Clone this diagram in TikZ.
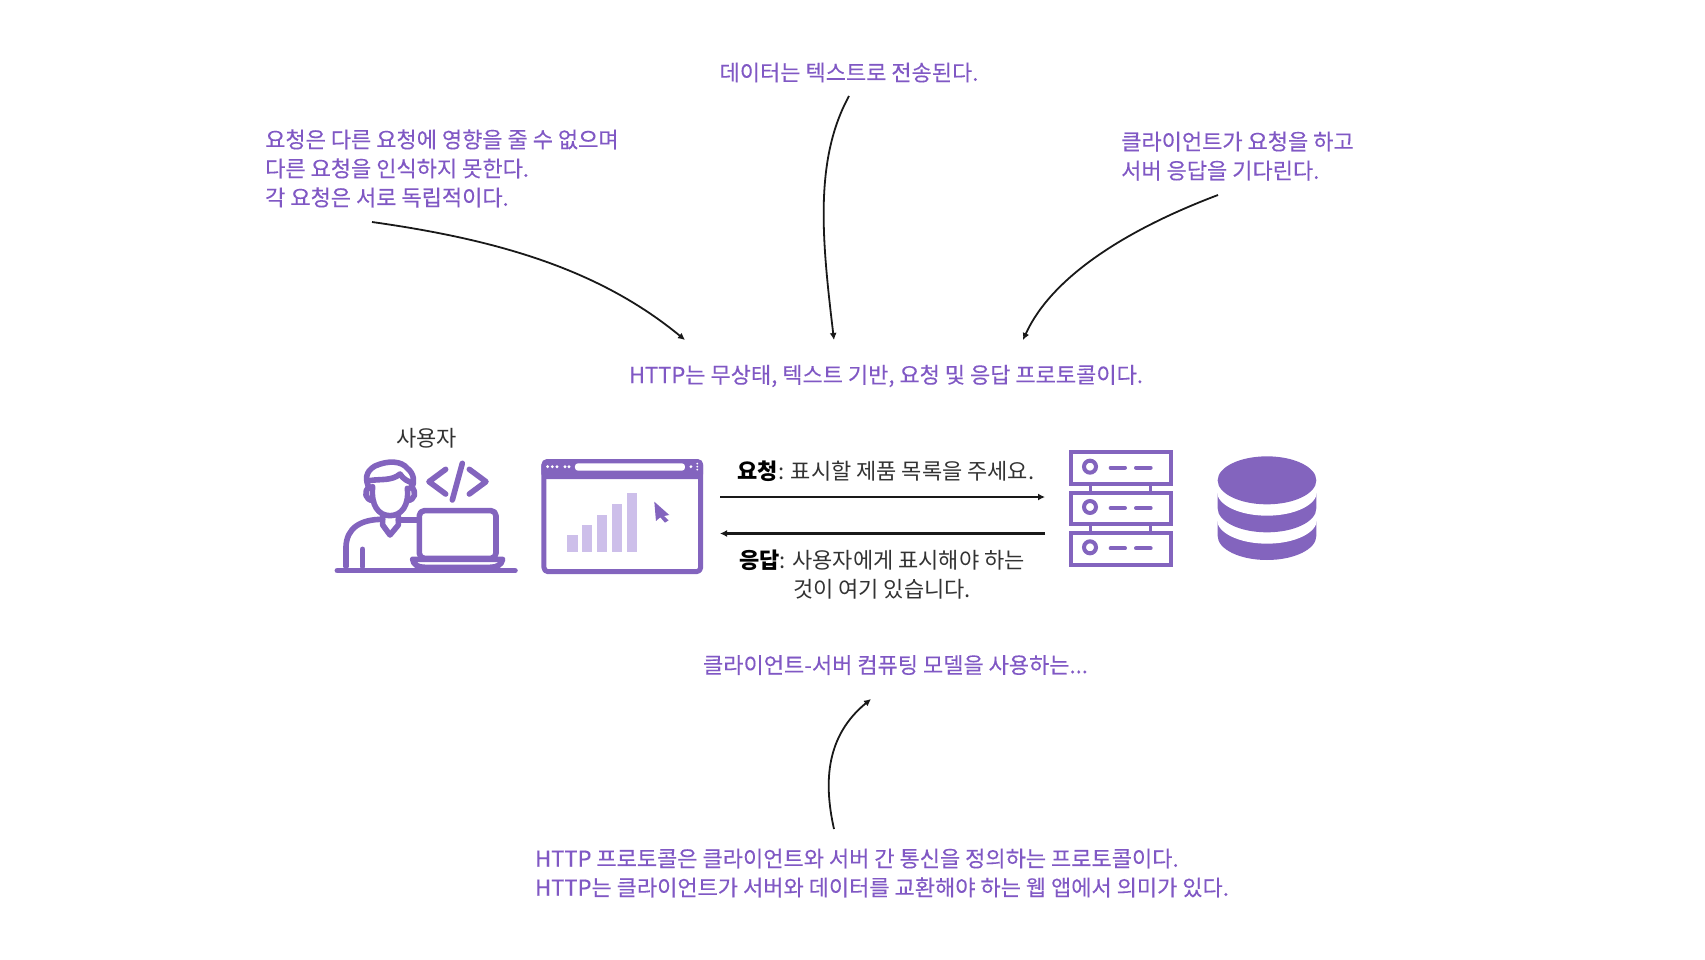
\documentclass[tikz,border=0pt]{standalone}
\usepackage{fontspec}
\setmainfont{Noto Sans CJK KR}
\newfontfamily\notefont[FakeBold=0.25]{Noto Sans CJK KR}
\usetikzlibrary{arrows.meta, positioning, calc}
\definecolor{notepurple}{HTML}{8058C4}
\definecolor{iconpurple}{HTML}{8364BE}
\definecolor{barpurple}{HTML}{CDBFEA}
\definecolor{labeldark}{HTML}{333333}

\begin{document}
\begin{tikzpicture}[
  x=1pt, y=-1pt,
  note/.style={text=notepurple, font=\notefont\fontsize{22}{29}\selectfont, inner sep=0pt},
  noteleft/.style={note, align=left, anchor=west},
  label/.style={text=labeldark, font=\fontsize{22}{29}\selectfont, inner sep=0pt, align=center},
  arrow/.style={-{Latex[length=7pt,width=7pt]}, line width=1.8pt, black!90},
  midarrow/.style={arrow, line width=2.4pt},
  iconline/.style={draw=iconpurple, line width=5.6pt, line cap=round, line join=round},
  serverline/.style={draw=iconpurple, line width=4pt},
  ]
  \useasboundingbox (0,0) rectangle (1705,959);

  \node[note] (data) at (849,72.5) {데이터는 텍스트로 전송된다.};
  \node[noteleft] (independent) at (265,168.5) {요청은 다른 요청에 영향을 줄 수 없으며\\다른 요청을 인식하지 못한다.\\각 요청은 서로 독립적이다.};
  \node[noteleft] (wait) at (1121,156) {클라이언트가 요청을 하고\\서버 응답을 기다린다.};
  \node[note] (http) at (886,376) {HTTP는 무상태, 텍스트 기반, 요청 및 응답 프로토콜이다.};
  \node[note] (model) at (895.5,665) {클라이언트-서버 컴퓨팅 모델을 사용하는...};
  \node[noteleft] (define) at (535,873) {HTTP 프로토콜은 클라이언트와 서버 간 통신을 정의하는 프로토콜이다.\\HTTP는 클라이언트가 서버와 데이터를 교환해야 하는 웹 앱에서 의미가 있다.};

  \node[label] (user) at (426.5,438) {사용자};
  \node[label] (request) at (886,471) {\textbf{\textcolor{black}{요청}}: 표시할 제품 목록을 주세요.};
  \node[label] (response) at (882,575) {\textbf{\textcolor{black}{응답}}: 사용자에게 표시해야 하는\\것이 여기 있습니다.};

  \coordinate (a1s) at (372,222);
  \coordinate (a1e) at (685,340);
  \coordinate (a2s) at (849,96);
  \coordinate (a2e) at (834,340);
  \coordinate (a3s) at (1218,195);
  \coordinate (a3e) at (1023,340);
  \coordinate (a4s) at (834,829);
  \coordinate (a4e) at (871,699);
  \coordinate (reqs) at (720,497);
  \coordinate (reqe) at (1045,497);
  \coordinate (ress) at (1045,533.5);
  \coordinate (rese) at (720,533.5);

  \draw[arrow] (a1s) .. controls (500,240) and (600,270) .. (a1e);
  \draw[arrow] (a2s) .. controls (814,160) and (822,240) .. (a2e);
  \draw[arrow] (a3s) .. controls (1120,232) and (1050,280) .. (a3e);
  \draw[arrow] (a4s) .. controls (823,780) and (827,735) .. (a4e);
  \draw[midarrow] (reqs) -- (reqe);
  \draw[midarrow] (ress) -- (rese);

  % person
  \begin{scope}[shift={(330,450)}, x=0.3333pt, y=-0.3333pt]
    \draw[iconline] (22,362) -- (555,362);
    \draw[iconline] (118,115) .. controls (105,90) and (105,65) .. (135,48)
      .. controls (175,30) and (215,33) .. (232,55)
      .. controls (252,70) and (255,95) .. (245,115);
    \draw[iconline] (118,92) .. controls (150,86) and (185,94) .. (210,72)
      .. controls (220,88) and (235,95) .. (250,100);
    \draw[iconline] (128,110) .. controls (122,165) and (145,197) .. (180,197)
      .. controls (215,197) and (238,165) .. (232,115);
    \draw[iconline] (118,110) .. controls (100,125) and (105,150) .. (130,152);
    \draw[iconline] (243,110) .. controls (262,125) and (255,150) .. (232,152);
    \draw[iconline] (158,197) -- (158,225) -- (180,255) -- (205,225) -- (205,197);
    \draw[iconline] (48,350) -- (48,290) .. controls (50,235) and (90,208) .. (158,208);
    \draw[iconline] (205,210) -- (262,210);
    \draw[iconline] (98,298) -- (98,350);
    \draw[iconline, rounded corners=5pt] (268,182) rectangle (498,325);
    \draw[iconline] (248,328) -- (518,328) .. controls (515,345) and (500,352) .. (480,352)
      -- (285,352) .. controls (265,352) and (250,345) .. (248,328);
    \draw[iconline] (347,58) -- (297,95) -- (347,132);
    \draw[iconline] (397,40) -- (367,150);
    \draw[iconline] (418,58) -- (468,95) -- (418,132);
  \end{scope}

  % browser
  \begin{scope}[shift={(320,410)}, x=0.3333pt, y=-0.3333pt]
    \draw[iconpurple, line width=5pt, rounded corners=3pt, fill=iconpurple] (672,155) rectangle (1142,200);
    \draw[iconline, line width=5pt, rounded corners=4pt] (672,155) rectangle (1142,485);
    \fill[white, rounded corners=3pt] (765,160) rectangle (1095,182);
    \foreach \dotx in {683,697,711,735,747,1113}
      \fill[white] (\dotx,170) circle (1.6pt);
    \foreach \doty in {161,170,179}
      \fill[white] (1132,\doty) circle (1pt);
    \foreach \barx/\bary in {742/376, 786/346, 831/316, 875/281, 920/250}
      \fill[barpurple] (\barx,\bary) rectangle (\barx+31,427);
    \fill[iconpurple] (1003,275) -- (1048,315) -- (1032,318) -- (1046,331) -- (1035,338)
      -- (1021,322) -- (1008,333) -- cycle;
  \end{scope}

  % server and database
  \begin{scope}[shift={(1060,445)}, x=0.3333pt, y=-0.3333pt]
    \foreach \rowtop in {22,143,264} {
      \draw[serverline] (33,\rowtop) rectangle (332,\rowtop+95);
      \draw[serverline] (90,\rowtop+43) circle (6pt);
      \draw[serverline, line cap=round] (152,\rowtop+46) -- (195,\rowtop+46);
      \draw[serverline, line cap=round] (228,\rowtop+46) -- (272,\rowtop+46);
    }
    \foreach \rowtop in {117,238} {
      \draw[iconpurple, line width=3pt] (92,\rowtop) -- (92,\rowtop+26);
      \draw[iconpurple, line width=3pt] (270,\rowtop) -- (270,\rowtop+26);
    }
    \fill[iconpurple] (473,224) -- (473,273) arc[start angle=180, end angle=360, x radius=49.33pt, y radius=24pt] -- (769,224) -- cycle;
    \fill[white] (621,224) circle[x radius=50pt, y radius=24pt];
    \fill[iconpurple] (473,140) -- (473,190) arc[start angle=180, end angle=360, x radius=49.33pt, y radius=24pt] -- (769,140) -- cycle;
    \fill[white] (621,140) circle[x radius=50pt, y radius=24pt];
    \fill[iconpurple] (621,106) circle[x radius=49.33pt, y radius=24pt];
  \end{scope}
\end{tikzpicture}
\end{document}
